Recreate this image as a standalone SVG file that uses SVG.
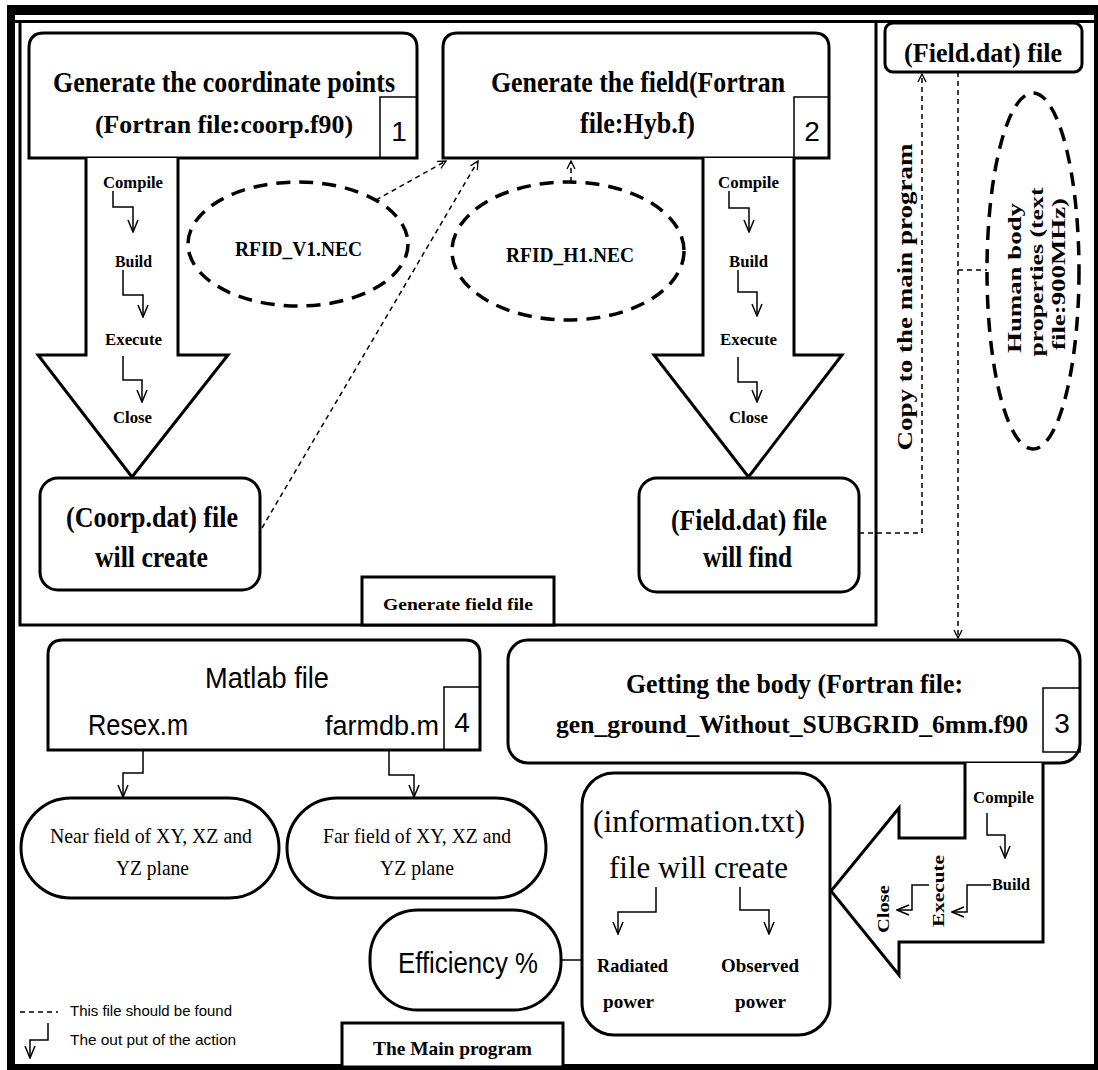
<svg xmlns="http://www.w3.org/2000/svg" width="1098" height="1070" viewBox="0 0 1098 1070">
  <defs>
    <!-- open chevron used by the "output of the action" hooks -->
    <marker id="chev" markerUnits="userSpaceOnUse" markerWidth="14" markerHeight="12" viewBox="0 0 14 12" refX="13" refY="6" orient="auto">
      <path d="M1,1 L13,6 L1,11" fill="none" stroke="#000" stroke-width="1.5"/>
    </marker>
    <!-- smaller open head for dashed "file should be found" links -->
    <marker id="chevs" markerUnits="userSpaceOnUse" markerWidth="10" markerHeight="10" viewBox="0 0 10 10" refX="9" refY="5" orient="auto">
      <path d="M1,1 L9,5 L1,9" fill="none" stroke="#000" stroke-width="1.3"/>
    </marker>
  </defs>
  <style>
    .box { fill: #fff; stroke: #000; stroke-width: 3; }
    .num { fill: none; stroke: #000; stroke-width: 1.5; }
    .frame { fill: none; stroke: #000; stroke-width: 3; }
    .ell { fill: none; stroke: #000; stroke-width: 3.5; stroke-dasharray: 14 9; }
    .conn { fill: none; stroke: #000; stroke-width: 1.5; stroke-dasharray: 5 4; }
    .out { fill: none; stroke: #000; stroke-width: 1.5; marker-end: url(#chev); }
    .solid { fill: none; stroke: #000; stroke-width: 1.5; }
    text { fill: #000; text-anchor: middle; }
    .sb { font-family: "Liberation Serif", serif; font-weight: bold; }
    .sr { font-family: "Liberation Serif", serif; }
    .ss { font-family: "Liberation Sans", Arial, sans-serif; }
    .big { font-size: 29px; }
    .mid { font-size: 20px; }
    .sm { font-size: 17px; }
  </style>

  <rect width="1098" height="1070" fill="#fff"/>

  <!-- outer frame -->
  <g id="outer-frame">
    <rect x="7" y="5" width="1091" height="10" fill="#000"/>
    <rect x="7" y="5" width="8" height="1065" fill="#000"/>
    <rect x="7" y="1064" width="1091" height="6" fill="#000"/>
    <rect x="1094" y="5" width="4" height="1065" fill="#000"/>
    <line x1="15" y1="21.5" x2="1094" y2="21.5" stroke="#000" stroke-width="3"/>
  </g>

  <!-- "Generate field file" section -->
  <g id="section-generate">
    <rect class="frame" x="20" y="21.5" width="856" height="603.5"/>
    <rect class="box" x="362" y="577" width="192" height="48" stroke-width="2"/>
    <text class="sb sm" x="458" y="610" textLength="150" lengthAdjust="spacingAndGlyphs">Generate field file</text>
  </g>

  <!-- step 1 -->
  <g id="node-coorp">
    <path class="box" d="M29,158 V48 Q29,33 44,33 H402 Q417,33 417,48 V158 Z"/>
    <rect class="num" x="380" y="97" width="37" height="61"/>
    <text class="sb big" x="224" y="92" textLength="342" lengthAdjust="spacingAndGlyphs">Generate the coordinate points</text>
    <text class="sb" font-size="26" x="224" y="133" textLength="258" lengthAdjust="spacingAndGlyphs">(Fortran file:coorp.f90)</text>
    <text class="ss" font-size="28" x="399" y="141">1</text>
  </g>

  <g id="arrow-1">
    <path class="box" d="M86,158 V355 H38 L132,477 L228,355 H178 V158"/>
    <text class="sb sm" x="133" y="188" textLength="60" lengthAdjust="spacingAndGlyphs">Compile</text>
    <polyline class="out" points="113,191 113,207 133,207 133,232"/>
    <text class="sb sm" x="133.5" y="267" textLength="37" lengthAdjust="spacingAndGlyphs">Build</text>
    <polyline class="out" points="123,270 123,295 143,295 143,317"/>
    <text class="sb sm" x="133.5" y="345" textLength="57" lengthAdjust="spacingAndGlyphs">Execute</text>
    <polyline class="out" points="123,356 123,380 142,380 142,402"/>
    <text class="sb sm" x="132.5" y="423" textLength="39" lengthAdjust="spacingAndGlyphs">Close</text>
  </g>

  <g id="node-coorp-dat">
    <rect class="box" x="40" y="478" width="220" height="112" rx="18"/>
    <text class="sb big" x="152" y="527" textLength="172" lengthAdjust="spacingAndGlyphs">(Coorp.dat) file</text>
    <text class="sb big" x="151.5" y="567" textLength="113" lengthAdjust="spacingAndGlyphs">will create</text>
  </g>

  <g id="node-rfid-v1">
    <ellipse class="ell" cx="298" cy="244" rx="110" ry="62"/>
    <text class="sb mid" x="298.5" y="256" textLength="127" lengthAdjust="spacingAndGlyphs">RFID_V1.NEC</text>
  </g>

  <!-- step 2 -->
  <g id="node-field">
    <path class="box" d="M443,158 V48 Q443,33 458,33 H814 Q829,33 829,48 V158 Z"/>
    <rect class="num" x="794" y="97" width="35" height="61"/>
    <text class="sb big" x="638" y="92" textLength="294" lengthAdjust="spacingAndGlyphs">Generate the field(Fortran</text>
    <text class="sb big" x="637.5" y="133" textLength="115" lengthAdjust="spacingAndGlyphs">file:Hyb.f)</text>
    <text class="ss" font-size="28" x="812" y="141">2</text>
  </g>

  <g id="arrow-2">
    <path class="box" d="M703,158 V355 H654 L748.5,477 L842,355 H794 V158"/>
    <text class="sb sm" x="748.5" y="188" textLength="61" lengthAdjust="spacingAndGlyphs">Compile</text>
    <polyline class="out" points="729,191 729,208 749,208 749,232"/>
    <text class="sb sm" x="748.5" y="267" textLength="39" lengthAdjust="spacingAndGlyphs">Build</text>
    <polyline class="out" points="738,270 738,292 757,292 757,316"/>
    <text class="sb sm" x="748.5" y="345" textLength="57" lengthAdjust="spacingAndGlyphs">Execute</text>
    <polyline class="out" points="738,357 738,382 757,382 757,402"/>
    <text class="sb sm" x="748.5" y="423" textLength="39" lengthAdjust="spacingAndGlyphs">Close</text>
  </g>

  <g id="node-field-dat">
    <rect class="box" x="639" y="478" width="220" height="114" rx="18"/>
    <text class="sb big" x="749" y="530" textLength="156" lengthAdjust="spacingAndGlyphs">(Field.dat) file</text>
    <text class="sb big" x="747.5" y="567" textLength="89" lengthAdjust="spacingAndGlyphs">will find</text>
  </g>

  <g id="node-rfid-h1">
    <ellipse class="ell" cx="568" cy="251" rx="116" ry="69"/>
    <text class="sb mid" x="570" y="262" textLength="128" lengthAdjust="spacingAndGlyphs">RFID_H1.NEC</text>
  </g>

  <!-- right column -->
  <g id="node-field-copy">
    <rect class="box" x="885" y="23" width="197" height="49" rx="8"/>
    <text class="sb" font-size="28" x="983" y="62" textLength="158" lengthAdjust="spacingAndGlyphs">(Field.dat) file</text>
  </g>

  <g id="node-human-body">
    <ellipse class="ell" cx="1033" cy="271" rx="46" ry="178" stroke-dasharray="18 11"/>
    <text class="sb" font-size="19" transform="translate(1021,278) rotate(-90)" textLength="150" lengthAdjust="spacingAndGlyphs">Human body</text>
    <text class="sb" font-size="19" transform="translate(1043,272) rotate(-90)" textLength="169" lengthAdjust="spacingAndGlyphs">properties (text</text>
    <text class="sb" font-size="19" transform="translate(1065,274) rotate(-90)" textLength="152" lengthAdjust="spacingAndGlyphs">file:900MHz)</text>
  </g>

  <!-- step 3 -->
  <g id="node-body">
    <rect class="box" x="508" y="640" width="572" height="123" rx="20"/>
    <rect class="num" x="1043" y="688" width="37" height="64"/>
    <text class="sb" font-size="28" x="794.5" y="693" textLength="337" lengthAdjust="spacingAndGlyphs">Getting the body (Fortran file:</text>
    <text class="sb" font-size="25" x="792" y="733" textLength="472" lengthAdjust="spacingAndGlyphs">gen_ground_Without_SUBGRID_6mm.f90</text>
    <text class="ss" font-size="28" x="1062" y="733">3</text>
  </g>

  <g id="arrow-3">
    <path class="box" d="M965,763 V838 H899 V808 L831,891 L899,975 V942 H1043 V763"/>
    <text class="sb sm" x="1003.5" y="803" textLength="61" lengthAdjust="spacingAndGlyphs">Compile</text>
    <polyline class="out" points="987,813 987,835 1005,835 1005,858"/>
    <text class="sb sm" x="1011" y="890" textLength="38" lengthAdjust="spacingAndGlyphs">Build</text>
    <polyline class="out" points="991,885 967,885 967,912 952,912"/>
    <text class="sb sm" transform="translate(944,891) rotate(-90)" textLength="72" lengthAdjust="spacingAndGlyphs">Execute</text>
    <polyline class="out" points="929,885 912,885 912,910 897,910"/>
    <text class="sb sm" transform="translate(889,909) rotate(-90)" textLength="48" lengthAdjust="spacingAndGlyphs">Close</text>
  </g>

  <g id="node-information">
    <rect class="box" x="582" y="773" width="248" height="262" rx="32"/>
    <text class="sr" font-size="32" x="699" y="832" textLength="212" lengthAdjust="spacingAndGlyphs">(information.txt)</text>
    <text class="sr" font-size="32" x="698.5" y="878" textLength="179" lengthAdjust="spacingAndGlyphs">file will create</text>
    <polyline class="out" points="656,887 656,912 618,912 618,934"/>
    <polyline class="out" points="740,887 740,910 769,910 769,934"/>
    <text class="sb" font-size="19" x="632.5" y="972" textLength="71" lengthAdjust="spacingAndGlyphs">Radiated</text>
    <text class="sb" font-size="19" x="628.5" y="1008" textLength="51" lengthAdjust="spacingAndGlyphs">power</text>
    <text class="sb" font-size="19" x="760" y="972" textLength="78" lengthAdjust="spacingAndGlyphs">Observed</text>
    <text class="sb" font-size="19" x="760.5" y="1008" textLength="51" lengthAdjust="spacingAndGlyphs">power</text>
  </g>

  <g id="node-efficiency">
    <rect class="box" x="370" y="910" width="191" height="100" rx="48"/>
    <text class="ss big" x="468" y="973" textLength="140" lengthAdjust="spacingAndGlyphs">Efficiency %</text>
  </g>

  <!-- step 4 -->
  <g id="node-matlab">
    <path class="box" d="M48,750 V655 Q48,640 63,640 H465 Q480,640 480,655 V750 Z"/>
    <rect class="num" x="444" y="687" width="36" height="63"/>
    <text class="ss big" x="267" y="688" textLength="124" lengthAdjust="spacingAndGlyphs">Matlab file</text>
    <text class="ss big" x="138" y="735" textLength="100" lengthAdjust="spacingAndGlyphs">Resex.m</text>
    <text class="ss" font-size="27" x="382" y="735" textLength="114" lengthAdjust="spacingAndGlyphs">farmdb.m</text>
    <text class="ss" font-size="28" x="462" y="732">4</text>
    <polyline class="out" points="143,750 143,773 123,773 123,797"/>
    <polyline class="out" points="389,750 389,775 414,775 414,797"/>
  </g>

  <g id="node-near-field">
    <rect class="box" x="21" y="798" width="258" height="100" rx="50"/>
    <text class="sr" font-size="21" x="151" y="843" textLength="202" lengthAdjust="spacingAndGlyphs">Near field of XY, XZ and</text>
    <text class="sr" font-size="21" x="152.5" y="875" textLength="73" lengthAdjust="spacingAndGlyphs">YZ plane</text>
  </g>

  <g id="node-far-field">
    <rect class="box" x="287" y="798" width="259" height="100" rx="50"/>
    <text class="sr" font-size="21" x="417" y="843" textLength="188" lengthAdjust="spacingAndGlyphs">Far field of XY, XZ and</text>
    <text class="sr" font-size="21" x="417" y="875" textLength="74" lengthAdjust="spacingAndGlyphs">YZ plane</text>
  </g>

  <g id="label-main">
    <rect class="box" x="342" y="1023" width="221" height="44" stroke-width="2"/>
    <text class="sb" font-size="19" x="452.5" y="1055" textLength="159" lengthAdjust="spacingAndGlyphs">The Main program</text>
  </g>

  <!-- legend -->
  <g id="legend">
    <line class="conn" x1="20" y1="1012" x2="58" y2="1012"/>
    <text class="ss" font-size="15" x="151" y="1016" textLength="162" lengthAdjust="spacingAndGlyphs">This file should be found</text>
    <polyline class="out" points="48,1023 48,1040 30,1040 30,1058"/>
    <text class="ss" font-size="15" x="153" y="1045" textLength="166" lengthAdjust="spacingAndGlyphs">The out put of the action</text>
  </g>

  <!-- links -->
  <g id="connectors">
    <line class="conn" x1="376" y1="200" x2="446" y2="161" marker-end="url(#chevs)"/>
    <line class="conn" x1="262" y1="528" x2="478" y2="161" marker-end="url(#chevs)"/>
    <line class="conn" x1="571" y1="182" x2="571" y2="161" marker-end="url(#chevs)"/>
    <polyline class="conn" points="859,533 922,533 922,74" marker-end="url(#chevs)"/>
    <line class="conn" x1="958" y1="72" x2="958" y2="638" marker-end="url(#chevs)"/>
    <line class="conn" x1="958" y1="270" x2="987" y2="270"/>
    <line class="solid" x1="561" y1="960" x2="582" y2="960"/>
  </g>
  <text class="sb mid" transform="translate(912,297) rotate(-90)" textLength="307" lengthAdjust="spacingAndGlyphs">Copy to the main program</text>
</svg>
